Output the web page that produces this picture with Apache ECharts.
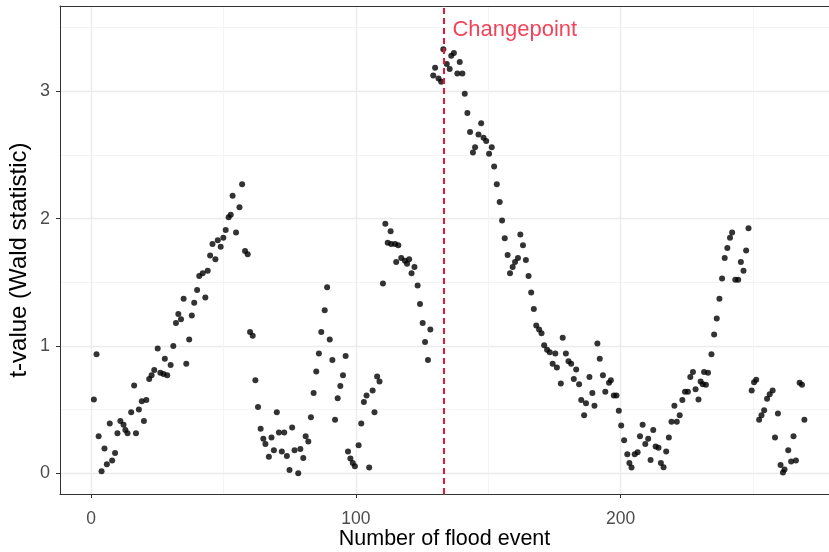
<!DOCTYPE html>
<html>
<head>
<meta charset="utf-8">
<title>Wald statistic by flood event</title>
<script src="https://cdn.jsdelivr.net/npm/echarts@6/dist/echarts.min.js"></script>
<style>
  html, body { margin: 0; padding: 0; background: #ffffff; }
  #chart { width: 829px; height: 552px; }
</style>
</head>
<body>
<div id="chart"></div>
<script>
// Event index and the t-value (Wald statistic) computed at that event
const eventNo = [
  1.0, 2.0, 2.8, 3.9, 5.0, 5.9, 7.0, 7.9, 9.0, 9.9,
  11.0, 12.2, 12.9, 13.7, 15.1, 16.2, 16.9, 18.0, 19.1, 19.9,
  20.8, 21.9, 22.8, 23.8, 25.1, 26.1, 27.3, 27.8, 28.7, 30.0,
  31.0, 32.0, 32.9, 33.9, 34.9, 35.9, 37.0, 38.0, 38.9, 40.0,
  40.8, 42.1, 43.1, 44.0, 44.9, 45.8, 46.9, 47.8, 48.9, 49.9,
  50.8, 51.9, 52.7, 53.4, 54.7, 56.0, 57.0, 58.1, 59.1, 60.0,
  61.0, 62.0, 63.0, 64.0, 65.0, 65.8, 67.1, 68.1, 69.0, 70.1,
  70.9, 72.0, 72.9, 73.9, 74.9, 75.9, 76.8, 78.2, 79.0, 80.1,
  81.0, 82.0, 83.0, 84.0, 85.0, 86.0, 86.9, 88.2, 89.1, 90.1,
  91.1, 92.1, 93.1, 94.1, 95.1, 96.1, 97.0, 97.9, 98.8, 99.6,
  101.0, 102.0, 103.0, 104.0, 105.0, 106.3, 107.0, 108.0, 108.9, 110.2,
  111.1, 112.0, 113.1, 113.3, 114.8, 115.2, 116.0, 117.1, 118.5, 119.3,
  120.1, 121.0, 122.1, 123.3, 124.2, 125.2, 126.1, 127.2, 128.1,
  129.2, 129.9, 131.2, 132.2, 133.0, 134.3, 135.4, 136.0, 137.0, 138.3,
  139.2, 140.2, 141.1, 142.1, 143.1, 144.2, 145.0, 146.3, 147.3, 148.2,
  149.2, 150.3, 151.3, 152.2, 153.2, 154.3, 155.2, 156.2, 157.3, 158.2,
  159.2, 160.1, 161.2, 162.1, 163.1, 164.2, 165.2, 166.2, 167.2, 168.1,
  169.2, 170.1, 171.1, 172.2, 173.2, 174.3, 175.3, 175.9, 177.4, 178.1,
  179.3, 180.3, 181.3, 182.3, 183.2, 184.3, 185.1, 186.2, 186.9, 188.2,
  189.3, 190.1, 191.2, 192.1, 193.3, 194.2, 195.6, 196.3, 197.4, 198.4,
  199.3, 200.2, 201.3, 202.5, 203.3, 204.1, 205.3, 206.4, 207.3, 208.3,
  209.3, 210.4, 211.3, 212.3, 213.2, 214.3, 215.2, 216.2, 217.2, 218.2,
  219.2, 220.3, 221.2, 222.3, 223.3, 224.3, 225.4, 226.3, 227.3, 228.3,
  229.4, 230.2, 231.0, 231.5, 232.2, 233.0, 234.3, 235.3, 236.3, 237.3,
  238.3, 239.3, 240.3, 241.3, 242.1, 243.3, 244.4, 245.4, 246.4, 247.4,
  248.3, 249.5, 250.4, 251.2, 252.3, 253.2, 254.2, 255.3, 256.3, 257.4,
  258.3, 259.4, 260.4, 261.3, 261.9, 263.3, 264.4, 265.3, 266.2, 267.6,
  268.5, 269.4
];
const tValue = [
  0.58, 0.935, 0.29, 0.016, 0.195, 0.07, 0.39, 0.10, 0.16, 0.315,
  0.41, 0.38, 0.34, 0.315, 0.48, 0.69, 0.315, 0.50, 0.565, 0.41,
  0.575, 0.74, 0.77, 0.81, 0.98, 0.79, 0.78, 0.90, 0.77, 0.85,
  1.00, 1.18, 1.25, 1.21, 1.37, 0.86, 1.05, 1.24, 1.34, 1.44,
  1.55, 1.57, 1.38, 1.59, 1.71, 1.80, 1.68, 1.83, 1.78, 1.85,
  1.91, 2.01, 2.03, 2.18, 1.89, 2.09, 2.27, 1.745, 1.72, 1.11,
  1.08, 0.73, 0.52, 0.35, 0.27, 0.23, 0.13, 0.28, 0.18, 0.48,
  0.32, 0.17, 0.32, 0.135, 0.026, 0.36, 0.18, 0.0, 0.19, 0.12,
  0.29, 0.25, 0.44, 0.63, 0.80, 0.94, 1.11, 1.28, 1.46, 1.05,
  0.89, 0.42, 0.59, 0.685, 0.77, 0.92, 0.17, 0.115, 0.08, 0.055,
  0.22, 0.39, 0.56, 0.61, 0.045, 0.65, 0.48, 0.76, 0.72, 1.49,
  1.96, 1.81, 1.90, 1.80, 1.80, 1.66, 1.79, 1.69, 1.67, 1.645,
  1.68, 1.57, 1.62, 1.475, 1.33, 1.18, 1.03, 0.89, 1.13,
  3.125, 3.185, 3.10, 3.075, 3.33, 3.215, 3.175, 3.28, 3.30, 3.14,
  3.23, 3.14, 2.98, 2.83, 2.68, 2.52, 2.56, 2.66, 2.75, 2.635,
  2.61, 2.51, 2.56, 2.41, 2.27, 2.13, 1.985, 1.845, 1.715, 1.57,
  1.62, 1.66, 1.69, 1.875, 1.79, 1.675, 1.55, 1.42, 1.29, 1.16,
  1.13, 1.10, 1.005, 0.97, 0.95, 0.86, 0.94, 0.83, 0.705, 1.065,
  0.94, 0.88, 0.86, 0.74, 0.815, 0.70, 0.575, 0.455, 0.55, 0.755,
  0.63, 0.53, 1.02, 0.90, 0.77, 0.64, 0.71, 0.73, 0.61, 0.61,
  0.49, 0.375, 0.26, 0.15, 0.08, 0.045, 0.15, 0.165, 0.29, 0.38,
  0.23, 0.27, 0.105, 0.34, 0.21, 0.20, 0.08, 0.048, 0.17, 0.28,
  0.405, 0.53, 0.405, 0.455, 0.575, 0.64, 0.64, 0.755, 0.795, 0.66,
  0.58, 0.72, 0.70, 0.795, 0.695, 0.79, 0.935, 1.09, 1.215, 1.37,
  1.53, 1.69, 1.77, 1.85, 1.89, 1.52, 1.52, 1.66, 1.59, 1.75,
  1.925, 0.65, 0.715, 0.735, 0.42, 0.455, 0.495, 0.585, 0.62, 0.65,
  0.28, 0.47, 0.065, 0.005, 0.03, 0.18, 0.093, 0.29, 0.10, 0.71,
  0.695, 0.42
];

// Detected changepoint (event number) and its caption
const changepoint = 133;
const changepointLabel = 'Changepoint';

// Labelled axis breaks
const xTicks = [0, 100, 200];
const yTicks = [0, 1, 2, 3];

// Visible axis window (the panel runs past the right edge of the page)
const X_MIN = -11.8, X_MAX = 278.7;
const Y_MIN = -0.163, Y_MAX = 3.67;

const FONT = '"Liberation Sans", Arial, Helvetica, sans-serif';
const GRID_COLOR = '#EBEBEB';
const MINOR_GRID_COLOR = '#F1F1F1';
const BORDER_COLOR = '#333333';
const RED = '#EB1530';

const points = eventNo.map((x, i) => [x, tValue[i]]);

const chart = echarts.init(document.getElementById('chart'), null, { renderer: 'canvas' });

chart.setOption({
  animation: false,
  backgroundColor: '#ffffff',
  grid: {
    left: 60, right: 0, top: 6, bottom: 58,
    containLabel: false,
    outerBoundsMode: 'none'
  },
  xAxis: [
    {
      type: 'value',
      min: X_MIN,
      max: X_MAX,
      splitNumber: 3,
      name: 'Number of flood event',
      nameLocation: 'middle',
      nameGap: 34,
      nameMoveOverlap: false,
      nameTextStyle: { fontFamily: FONT, fontSize: 21.5, color: '#000000' },
      axisLine: { show: true, onZero: false, lineStyle: { color: BORDER_COLOR, width: 1 } },
      axisTick: { show: true, customValues: xTicks, length: 4, lineStyle: { color: BORDER_COLOR, width: 1 } },
      axisLabel: { customValues: xTicks, fontFamily: FONT, fontSize: 17.5, color: '#4D4D4D', margin: 16 },
      splitLine: { show: true, lineStyle: { color: GRID_COLOR, width: 1.4 } },
      minorTick: { show: false, splitNumber: 2 },
      minorSplitLine: { show: true, lineStyle: { color: MINOR_GRID_COLOR, width: 0.8 } }
    },
    {
      // top edge of the panel frame
      type: 'value',
      position: 'top',
      min: X_MIN,
      max: X_MAX,
      axisLine: { show: true, onZero: false, lineStyle: { color: BORDER_COLOR, width: 1 } },
      axisTick: { show: false },
      axisLabel: { show: false },
      splitLine: { show: false }
    }
  ],
  yAxis: {
    type: 'value',
    min: Y_MIN,
    max: Y_MAX,
    splitNumber: 4,
    name: 't-value (Wald statistic)',
    nameLocation: 'middle',
    nameGap: 29,
    nameRotate: 90,
    nameMoveOverlap: false,
    nameTextStyle: { fontFamily: FONT, fontSize: 24, color: '#000000', padding: [0, 20, 0, 0] },
    axisLine: { show: true, onZero: false, lineStyle: { color: BORDER_COLOR, width: 1 } },
    axisTick: { show: true, customValues: yTicks, length: 4, lineStyle: { color: BORDER_COLOR, width: 1 } },
    axisLabel: { customValues: yTicks, fontFamily: FONT, fontSize: 18, color: '#4D4D4D', margin: 10 },
    splitLine: { show: true, lineStyle: { color: GRID_COLOR, width: 1.4 } },
    minorTick: { show: false, splitNumber: 2 },
    minorSplitLine: { show: true, lineStyle: { color: MINOR_GRID_COLOR, width: 0.8 } }
  },
  series: [
    {
      name: 't-value',
      type: 'scatter',
      xAxisIndex: 0,
      data: points,
      symbol: 'circle',
      symbolSize: 6,
      itemStyle: { color: '#000000' },
      z: 3,
      markLine: {
        silent: true,
        symbol: ['none', 'none'],
        label: { show: false },
        lineStyle: { color: RED, type: [6, 4], width: 2 },
        data: [{ xAxis: changepoint }]
      }
    },
    {
      name: 'annotation',
      type: 'scatter',
      xAxisIndex: 0,
      data: [[changepoint + 27, 3.48]],
      symbolSize: 0,
      silent: true,
      z: 4,
      label: {
        show: true,
        position: [0, 0],
        align: 'center',
        verticalAlign: 'middle',
        formatter: changepointLabel,
        fontFamily: FONT,
        fontSize: 22,
        color: RED
      }
    }
  ]
});
</script>
</body>
</html>
